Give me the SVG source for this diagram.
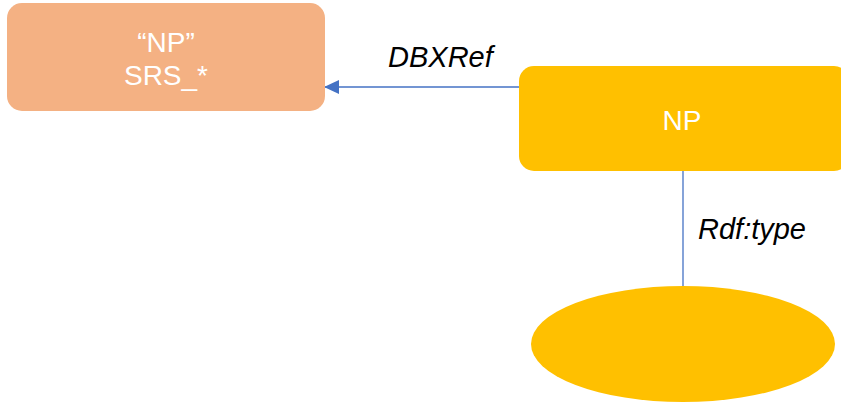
<svg xmlns="http://www.w3.org/2000/svg" width="841" height="405" viewBox="0 0 841 405">
  <style>
    .lbl { font-family: "Liberation Sans", Arial, sans-serif; font-size: 28px; fill: #ffffff; text-anchor: middle; }
    .edge-lbl { font-family: "Liberation Sans", Arial, sans-serif; font-size: 29px; font-style: italic; fill: #000000; }
    .conn { stroke: #4472C4; stroke-width: 1.3; fill: none; }
  </style>
  <defs>
    <marker id="arrow" markerWidth="16" markerHeight="14" refX="15" refY="7" orient="auto" markerUnits="userSpaceOnUse">
      <path d="M0,0 L15,7 L0,14 Z" fill="#4472C4"/>
    </marker>
  </defs>
  <rect width="841" height="405" fill="#ffffff"/>

  <g id="connectors">
    <line class="conn" x1="521" y1="87" x2="324" y2="87" marker-end="url(#arrow)"/>
    <line class="conn" x1="683" y1="171" x2="683" y2="286"/>
    <text class="edge-lbl" x="388" y="67">DBXRef</text>
    <text class="edge-lbl" x="698" y="239">Rdf:type</text>
  </g>

  <g id="node-literal">
    <rect x="7" y="3" width="318" height="108" rx="15" fill="#F4B183"/>
    <text class="lbl" x="166" y="52">“NP”</text>
    <text class="lbl" x="166" y="85">SRS_*</text>
  </g>

  <g id="node-np">
    <rect x="519" y="66" width="330" height="105" rx="15" fill="#FFC000"/>
    <text class="lbl" x="682" y="130">NP</text>
  </g>

  <g id="node-type">
    <ellipse cx="683" cy="344" rx="152" ry="58" fill="#FFC000"/>
  </g>
</svg>
